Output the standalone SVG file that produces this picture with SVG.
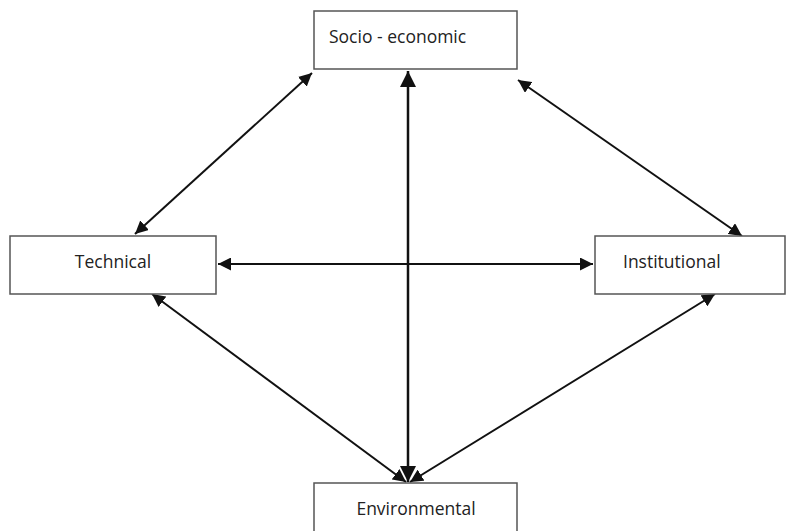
<svg xmlns="http://www.w3.org/2000/svg" width="788" height="531" viewBox="0 0 788 531">
<style>
.box{fill:#fff;stroke:#555;stroke-width:1.5}
.lbl{font-family:"Open Sans","Liberation Sans",sans-serif;font-size:17.5px;fill:#222}
.c{stroke:#111;stroke-width:2;fill:none;marker-start:url(#ah);marker-end:url(#ah)}
</style>
<defs>
<marker id="ah" viewBox="0 0 10 10" refX="10" refY="5" markerWidth="6.5" markerHeight="6.5" orient="auto-start-reverse" markerUnits="strokeWidth">
<path d="M0,0 L10,5 L0,10 z" fill="#111"/>
</marker>
</defs>
<rect width="788" height="531" fill="#fff"/>
<g id="connectors">
<line class="c" x1="312" y1="73" x2="135" y2="234"/>
<line class="c" x1="518" y1="80" x2="742" y2="236"/>
<line class="c" x1="218" y1="264" x2="593" y2="264"/>
<line class="c" x1="408" y1="71" x2="408" y2="482" style="stroke-width:2.5"/>
<line class="c" x1="152" y1="294" x2="406" y2="482"/>
<line class="c" x1="715" y1="294" x2="410" y2="482"/>
</g>
<g id="socio">
<rect class="box" x="314" y="11" width="203" height="58"/>
<text class="lbl" x="329" y="43">Socio - economic</text>
</g>
<g id="technical">
<rect class="box" x="10" y="236" width="206" height="58"/>
<text class="lbl" x="113" y="268" text-anchor="middle">Technical</text>
</g>
<g id="institutional">
<rect class="box" x="595" y="236" width="190" height="58"/>
<text class="lbl" x="623" y="268">Institutional</text>
</g>
<g id="environmental">
<rect class="box" x="314" y="483" width="203" height="60"/>
<text class="lbl" x="416" y="515" text-anchor="middle">Environmental</text>
</g>
</svg>
